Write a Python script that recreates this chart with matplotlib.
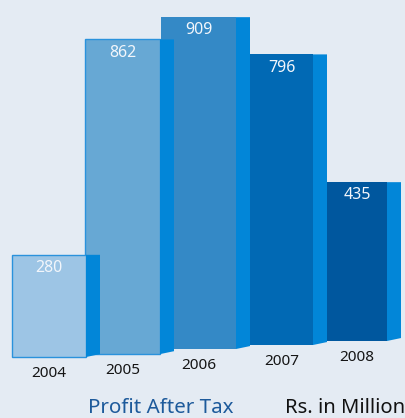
import matplotlib.pyplot as plt

# profit after tax, Rs. in million
years = ["2004", "2005", "2006", "2007", "2008"]
profit = [280, 862, 909, 796, 435]

# front face colours, lightest to darkest
face_colors = ["#9dc5e5", "#67a8d4", "#3489c6", "#0169b4", "#00579e"]
side_color = "#0286d8"
bg = "#e4ebf3"

# layout (x in pixels, y in data units); bases drift up slightly to the right
lefts = [12, 85, 161, 250, 327]
widths = [74, 75, 75, 63, 60]
bases = [0, 8, 22, 33, 44]
depth = 14
slant = 8

plt.rcParams['font.family'] = ['Noto Sans', 'DejaVu Sans']

fig = plt.figure(figsize=(4.05, 4.18), dpi=100, facecolor=bg)
ax = fig.add_axes([0, 0, 1, 1])
ax.set_facecolor(bg)
ax.set_xlim(0, 405)
ax.set_ylim(-167, 978)
ax.axis("off")

n = len(years)
for i in range(n):
    z = 10 + (n - i) * 2
    x0, w, b, v = lefts[i], widths[i], bases[i], profit[i]
    ax.bar(x0, v, width=w, bottom=b, align="edge", color=face_colors[i],
           edgecolor="#2a92dc", linewidth=1.0 if i < 2 else 0.0, zorder=z)
    x1 = x0 + w
    ax.fill([x1, x1 + depth, x1 + depth, x1],
            [b, b + slant, b + v, b + v], color=side_color, lw=0, zorder=z + 1)
    ax.text(x0 + w / 2, b + v - 36, str(v), ha="center", va="center",
            color="#f2f6fb", fontsize=11.5, zorder=30)
    ax.text(x0 + w / 2, b - 44, years[i], ha="center", va="center",
            color="#151515", fontsize=11, zorder=30)

fig.text(161 / 405, 1 - 408 / 418, "Profit After Tax", ha="center", va="center",
         color="#1d5a9b", fontsize=14.8)
fig.text(405 / 405, 1 - 408 / 418, "Rs. in Million", ha="right", va="center",
         color="#111111", fontsize=14.5)

fig.savefig("out.png", dpi=100, facecolor=bg)
